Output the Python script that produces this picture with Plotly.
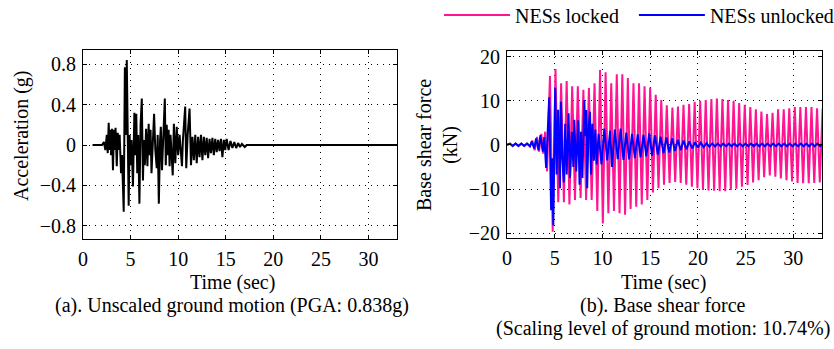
import plotly.graph_objects as go

# ---------------- data ----------------
# (a) unscaled ground motion, acceleration (g) — local extrema
acc_t = [1.0, 2.0, 2.2, 2.35, 2.5, 2.6, 2.7, 2.8, 2.9, 2.95, 3.05, 3.15, 3.25, 3.35, 3.42, 3.55,
         3.65, 3.75, 3.85, 4.0, 4.1, 4.28, 4.4, 4.5, 4.6, 4.8, 4.9, 5.0, 5.1, 5.25, 5.4, 5.5,
         5.6, 5.7, 5.8, 5.93, 6.05, 6.18, 6.3, 6.4, 6.5, 6.63, 6.77, 6.9, 7.0, 7.1, 7.2, 7.35,
         7.47, 7.6, 7.75, 7.85, 7.97, 8.1, 8.18, 8.3, 8.45, 8.6, 8.7, 8.8, 8.9, 9.0, 9.1, 9.2,
         9.43, 9.55, 9.7, 9.85, 10.0, 10.15, 10.4, 10.5, 10.74, 10.85, 11.0, 11.2, 11.35, 11.5,
         11.65, 11.8, 11.95, 12.1, 12.25, 12.4, 12.55, 12.7, 12.85, 13.0, 13.15, 13.3, 13.45,
         13.6, 13.75, 13.9, 14.05, 14.2, 14.35, 14.5, 14.65, 14.8, 14.95, 15.1, 15.3, 15.5,
         15.7, 15.9, 16.1, 16.3, 16.5, 16.7, 17.0, 17.2, 33.0]
acc_g = [0.0, 0.0, 0.03, -0.05, 0.1, -0.08, 0.22, -0.05, 0.15, -0.1, 0.16, -0.25, 0.15, -0.05, 0.17, -0.21,
         0.12, -0.05, 0.1, -0.28, -0.1, -0.66, 0.77, 0.1, 0.84, -0.6, 0.1, -0.2, 0.05, -0.41, 0.32, -0.1,
         0.31, -0.28, 0.1, -0.58, 0.2, 0.46, -0.35, 0.05, -0.2, 0.16, -0.21, 0.21, -0.1, 0.15, -0.28, 0.1,
         0.31, -0.05, -0.23, 0.1, -0.58, 0.05, 0.18, -0.25, 0.1, 0.46, -0.2, 0.2, -0.1, 0.15, -0.21, 0.1,
         -0.3, 0.21, -0.18, 0.18, -0.1, 0.1, -0.21, 0.05, 0.38, -0.23, 0.1, 0.36, -0.2, 0.08,
         -0.15, 0.1, -0.18, 0.08, -0.12, 0.1, -0.15, 0.08, -0.1, 0.07, -0.13, 0.06, -0.08,
         0.07, -0.1, 0.06, -0.07, 0.05, -0.06, 0.06, -0.12, 0.05, -0.05, 0.06, -0.05, 0.04,
         -0.03, 0.03, -0.03, 0.02, -0.02, 0.01, -0.02, 0.0, 0.0]

# (b) base shear force (kN), NESs locked — local extrema
locked_t = [0.0, 0.3, 0.6, 0.9, 1.2, 1.5, 1.8, 2.1, 2.4, 2.65, 2.9, 3.15, 3.35, 3.6, 3.8, 4.0, 4.2,
            4.50, 4.79, 5.08, 5.37, 5.67, 5.96, 6.25, 6.54, 6.83, 7.12, 7.42, 7.71, 8.00, 8.29,
            8.58, 8.87, 9.17, 9.46, 9.75, 10.04, 10.33, 10.62, 10.92, 11.21, 11.50, 11.79,
            12.08, 12.37, 12.66, 12.95, 13.25, 13.54, 13.83, 14.12, 14.41, 14.70, 15.00, 15.29,
            15.58, 15.87, 16.16, 16.45, 16.74, 17.03, 17.33, 17.62, 17.91, 18.20, 18.49, 18.78,
            19.08, 19.37, 19.66, 19.95, 20.24, 20.53, 20.82, 21.11, 21.41, 21.70, 21.99, 22.28,
            22.57, 22.86, 23.16, 23.45, 23.74, 24.03, 24.32, 24.61, 24.91, 25.20, 25.49, 25.78,
            26.07, 26.36, 26.65, 26.94, 27.24, 27.53, 27.82, 28.11, 28.40, 28.69, 28.99, 29.28,
            29.57, 29.86, 30.15, 30.44, 30.73, 31.02, 31.32, 31.61, 31.90, 32.19, 32.48, 32.77,
            33.06]
locked_kn = [0.0, 0.3, -0.3, 0.3, -0.3, 0.3, -0.3, 0.3, -0.3, 1.0, -1.2, 1.8, -1.5, 2.5, -2.0, 3.0, -6.0,
             15.6, -19.7, 17.2, -13.0, 14.0, -13.0, 14.5, -13.5, 13.3, -12.5, 13.3, -12.0, 12.5, -12.5,
             12.9, -12.5, 14.0, -15.0, 17.0, -17.8, 16.5, -15.5, 14.0, -15.0, 16.0, -15.5,
             16.0, -15.8, 15.2, -14.5, 14.0, -14.0, 14.0, -13.5, 13.3, -12.5, 13.0, -10.8,
             11.4, -9.8, 10.2, -9.0, 9.0, -8.6, 8.5, -8.4, 8.7, -8.6, 9.1, -9.0,
             9.3, -9.5, 9.8, -9.8, 10.0, -10.2, 10.2, -10.3, 10.4, -10.4, 10.5, -10.5,
             10.4, -10.5, 10.2, -10.2, 10.0, -9.9, 9.5, -9.5, 9.1, -9.1, 8.6, -8.5,
             8.1, -8.0, 7.6, -7.3, 7.0, -6.9, 7.3, -7.2, 8.1, -7.6, 8.1, -8.0,
             8.3, -8.3, 8.6, -8.6, 8.6, -8.7, 8.6, -8.7, 8.6, -8.6, 8.3, -8.5,
             8.2]

# (b) base shear force (kN), NESs unlocked — local extrema
unlocked_t = [0.0, 0.3, 0.6, 0.9, 1.2, 1.5, 1.8, 2.1, 2.4, 2.6, 2.85, 3.05, 3.3, 3.5, 3.75, 3.9,
              4.1, 4.42, 4.62, 4.72, 4.85, 5.05, 5.2, 5.35, 5.55, 5.65, 5.8, 5.95, 6.1, 6.25,
              6.45, 6.6, 6.8, 6.95, 7.05, 7.25, 7.45, 7.6, 7.75, 7.9, 8.1, 8.2, 8.3, 8.4, 8.55,
              8.7, 8.8, 8.95, 9.1, 9.25, 9.4, 9.6, 9.9, 10.2, 10.5, 10.8, 11.0, 11.3, 11.6, 11.9,
              12.2, 12.5, 12.8, 13.1, 13.4, 13.7, 14.0, 14.3, 14.6, 14.9, 15.2, 15.5, 15.8, 16.1,
              16.4, 16.7, 17.0, 17.3, 17.6, 17.9, 18.2, 18.5, 18.8, 19.1, 19.4, 19.7, 20.0, 20.3,
              20.6, 20.9, 21.2, 21.50, 21.79, 22.08, 22.37, 22.66, 22.95, 23.24, 23.53, 23.82,
              24.11, 24.40, 24.69, 24.98, 25.27, 25.56, 25.85, 26.14, 26.43, 26.72, 27.01, 27.30,
              27.59, 27.88, 28.17, 28.46, 28.75, 29.04, 29.33, 29.62, 29.91, 30.20, 30.49, 30.78,
              31.07, 31.36, 31.65, 31.94, 32.23, 32.52, 32.81, 33.10]
unlocked_kn = [0.0, 0.3, -0.2, 0.3, -0.2, 0.3, -0.2, 0.3, -0.3, 0.8, -0.8, 1.5, -1.2, 2.2, -1.5, 1.8,
               -5.2, 10.8, -14.8, -3.0, -18.2, 12.9, -6.7, 8.0, -9.8, 9.8, -3.0, -8.5, 4.8, -6.7,
               7.2, -7.5, 3.0, -5.0, 5.7, -6.0, 5.6, -9.0, 3.0, -7.5, 10.2, 2.0, 7.9, -9.8, 4.0,
               7.5, -6.7, 4.8, -3.6, 3.5, -4.4, 2.5, -4.4, 3.7, -3.5, 3.2, -5.0, 3.5, -3.2, 3.7,
               -3.4, 2.8, -3.3, 2.5, -3.0, 2.4, -2.8, 2.3, -2.6, 2.6, -2.4, 2.2, -2.2, 1.9,
               -1.9, 1.7, -1.7, 1.5, -1.4, 1.2, -1.2, 1.0, -1.0, 0.8, -0.8, 0.6, -0.6, 0.5,
               -0.5, 0.4, -0.4, 0.35, -0.35, 0.3, -0.3, 0.3, -0.3, 0.3, -0.3, 0.3,
               -0.3, 0.3, -0.3, 0.3, -0.3, 0.3, -0.3, 0.3, -0.3, 0.3, -0.3, 0.3,
               -0.3, 0.3, -0.3, 0.3, -0.3, 0.3, -0.3, 0.3, -0.3, 0.3, -0.3, 0.3,
               -0.3, 0.3, -0.3, 0.3, -0.3, 0.3, -0.3, 0.3]

x_ticks = [0, 5, 10, 15, 20, 25, 30]
acc_ticks = [-0.8, -0.4, 0, 0.4, 0.8]
shear_ticks = [-20, -10, 0, 10, 20]

# ---------------- figure ----------------
W, H = 834, 349
FONT = "Liberation Serif"

fig = go.Figure()
fig.add_trace(go.Scatter(x=acc_t, y=acc_g, mode="lines", line=dict(color="black", width=2),
                         showlegend=False, xaxis="x", yaxis="y"))
fig.add_trace(go.Scatter(x=locked_t, y=locked_kn, mode="lines", name="NESs locked\u00a0\u00a0",
                         line=dict(color="#FF1493", width=2), xaxis="x2", yaxis="y2"))
fig.add_trace(go.Scatter(x=unlocked_t, y=unlocked_kn, mode="lines", name="NESs unlocked",
                         line=dict(color="#0000FF", width=2), xaxis="x2", yaxis="y2"))

axis_style = dict(showline=True, linecolor="black", linewidth=1, mirror="ticks",
                  ticks="inside", ticklen=4, tickcolor="black", showgrid=True,
                  gridcolor="black", griddash="1px,5px", gridwidth=1, zeroline=False,
                  ticklabelstandoff=2,
                  tickfont=dict(family=FONT, size=20, color="black"), automargin=False)

def px_x(p):
    return p / W

def px_y(p):
    return 1 - p / H

fig.update_layout(
    width=W, height=H, margin=dict(l=0, r=0, t=0, b=0, autoexpand=False),
    paper_bgcolor="white", plot_bgcolor="white",
    font=dict(family=FONT, size=20, color="black"),
    xaxis=dict(domain=[px_x(83), px_x(397)], range=[0, 33], tickvals=x_ticks, anchor="y", **axis_style),
    yaxis=dict(domain=[px_y(239), px_y(50)], range=[-0.93, 0.94], tickvals=acc_ticks, anchor="x", **axis_style),
    xaxis2=dict(domain=[px_x(507), px_x(822)], range=[0, 33], tickvals=x_ticks, anchor="y2", **axis_style),
    yaxis2=dict(domain=[px_y(238), px_y(51)], range=[-21.1, 21.3], tickvals=shear_ticks, anchor="x2", **axis_style),
    legend=dict(orientation="h", x=px_x(439), xanchor="left", y=px_y(15), yanchor="middle",
                font=dict(family=FONT, size=20, color="black"), itemwidth=66,
                bgcolor="rgba(0,0,0,0)", borderwidth=0, tracegroupgap=0),
)

ann = [
    dict(text="Time (sec)", x=px_x(232), y=px_y(282)),
    dict(text="Time (sec)", x=px_x(663), y=px_y(282)),
    dict(text="(a). Unscaled ground motion (PGA: 0.838g)", x=px_x(232), y=px_y(305)),
    dict(text="(b). Base shear force", x=px_x(663), y=px_y(305)),
    dict(text="(Scaling level of ground motion: 10.74%)", x=px_x(663), y=px_y(328)),
    dict(text="Acceleration (g)", x=px_x(21), y=px_y(136), textangle=-90),
    dict(text="Base shear force<br>(kN)", x=px_x(437), y=px_y(145), textangle=-90),
]
for a in ann:
    fig.add_annotation(xref="paper", yref="paper", showarrow=False, xanchor="center",
                       yanchor="middle", font=dict(family=FONT, size=20, color="black"), **a)

fig.write_html("out.html")
